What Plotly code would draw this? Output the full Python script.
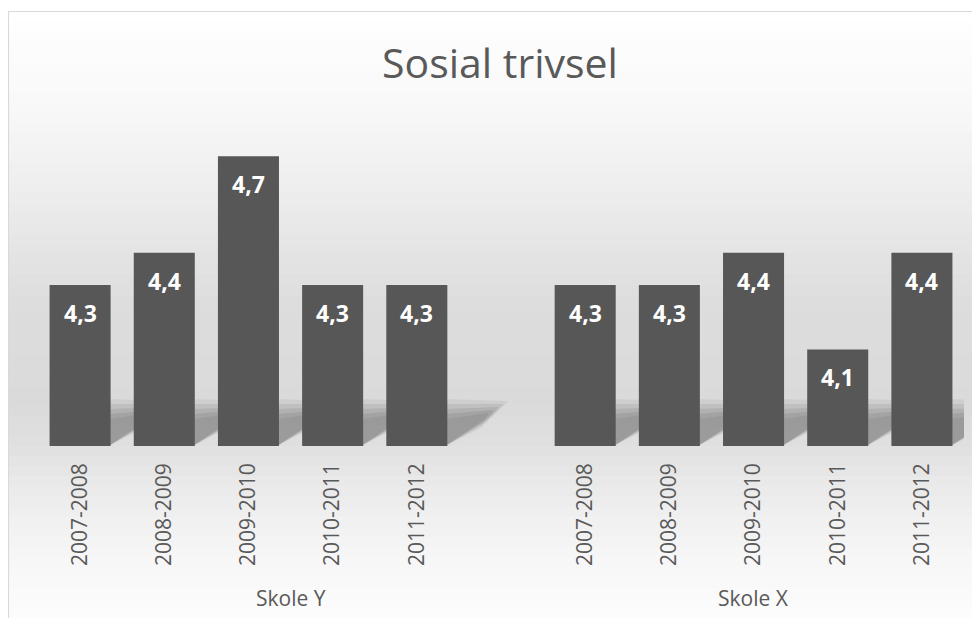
import plotly.graph_objects as go

# ---- data ----
title_text = "Sosial trivsel"
groups = ["Skole Y", "Skole X"]
periods = ["2007-2008", "2008-2009", "2009-2010", "2010-2011", "2011-2012"]
values_skole_y = [4.3, 4.4, 4.7, 4.3, 4.3]
values_skole_x = [4.3, 4.3, 4.4, 4.1, 4.4]
y_min, y_max = 3.8, 4.8

OFF = 8  # page body margin
W, H = 980 - OFF, 618 - OFF
M_L, M_R, M_T, M_B = 38 - OFF, 16, 124 - OFF, 172
TXT = "#595959"
BAR = "#575757"
FONT = "Open Sans"
BARGAP = 0.275

# slot layout: group Y occupies slots 0..5 (last one empty), group X slots 6..10
n = len(periods)
x_y = [i for i in range(n)]
x_x = [i + n + 1 for i in range(n)]
all_x = x_y + x_x
all_vals = values_skole_y + values_skole_x
all_labels = periods + periods
x_lo, x_hi = -0.5, 2 * n + 0.5

def fmt(v):
    return f"{v:.1f}".replace(".", ",")

fig = go.Figure()
fig.add_trace(go.Bar(
    x=all_x, y=all_vals, marker=dict(color=BAR, line=dict(width=0)),
    showlegend=False, hoverinfo="skip",
))

plot_h = H - M_T - M_B
plot_w = W - M_L - M_R
def py(pix):
    return (H - M_B - (pix - OFF)) / plot_h
def px(pix):
    return ((pix - OFF) - M_L) / plot_w

# background gradient bands (decoration)
stops = [(11, 255), (110, 248), (200, 236), (300, 221), (400, 218), (445, 224),
         (500, 237), (560, 247), (618, 253)]
shapes = []
nb = 60
for k in range(nb):
    p0 = 11 + (618 - 11) * k / nb
    p1 = 11 + (618 - 11) * (k + 1) / nb
    pm = (p0 + p1) / 2
    for j in range(len(stops) - 1):
        if stops[j][0] <= pm <= stops[j + 1][0]:
            t = (pm - stops[j][0]) / (stops[j + 1][0] - stops[j][0])
            c = round(stops[j][1] + t * (stops[j + 1][1] - stops[j][1]))
            break
    shapes.append(dict(type="rect", xref="paper", yref="paper",
                       x0=px(8), x1=px(1000),
                       y0=py(p1 + 0.5), y1=py(p0),
                       fillcolor=f"rgb({c},{c},{c})", line=dict(width=0), layer="below"))

# soft floor shadows behind each bar (decoration, derived from bar positions)
ux = (x_hi - x_lo) / plot_w      # data units per pixel (x)
uy = (y_max - y_min) / plot_h    # data units per pixel (y)
half = (1 - BARGAP) / 2
for xv in all_x:
    xr = xv + half
    for (grow, op) in [(5, 0.05), (0, 0.07), (-5, 0.08), (-10, 0.08), (-15, 0.06)]:
        pts = [(xr - 2 * ux, y_min),
               (xr - 2 * ux, y_min + (42 + grow) * uy),
               (xr + (56 + grow) * ux, y_min + (42 + grow * 0.6) * uy),
               (xr + (50 + grow) * ux, y_min + (34 + grow) * uy)]
        path = "M " + " L ".join(f"{a},{b}" for a, b in pts) + " Z"
        shapes.append(dict(type="path", xref="x", yref="y", path=path,
                           fillcolor=f"rgba(0,0,0,{op})", line=dict(width=0), layer="below"))

# chart border (left and top)
shapes.append(dict(type="line", xref="paper", yref="paper",
                   x0=px(8.5), x1=px(8.5), y0=py(640), y1=py(11),
                   line=dict(color="#d9d9d9", width=1.2)))
shapes.append(dict(type="line", xref="paper", yref="paper",
                   x0=px(8), x1=px(1000), y0=py(11.5), y1=py(11.5),
                   line=dict(color="#d9d9d9", width=1.2)))

annotations = []
for xv, v in zip(all_x, all_vals):
    annotations.append(dict(x=xv, y=v, xref="x", yref="y", text=fmt(v),
                            showarrow=False, yshift=-28, yanchor="middle",
                            font=dict(family=FONT, size=23, color="white", weight="bold")))
group_centers = [(x_lo + n + 0.5) / 2, (n + 0.5 + x_hi) / 2]
for g, cx in zip(groups, group_centers):
    annotations.append(dict(x=cx, y=py(598), xref="x", yref="paper", text=g,
                            showarrow=False, yanchor="middle",
                            font=dict(family=FONT, size=21, color=TXT)))
annotations.append(dict(x=px(500), y=py(62), xref="paper", yref="paper",
                        text=title_text, showarrow=False, yanchor="middle",
                        font=dict(family=FONT, size=41, color=TXT)))

fig.update_layout(
    width=W, height=H,
    margin=dict(l=M_L, r=M_R, t=M_T, b=M_B),
    paper_bgcolor="white", plot_bgcolor="rgba(0,0,0,0)",
    bargap=BARGAP,
    shapes=shapes, annotations=annotations,
    xaxis=dict(range=[x_lo, x_hi], tickmode="array", tickvals=all_x,
               ticktext=all_labels, tickangle=-90, showgrid=False, zeroline=False,
               showline=False, ticks="", ticklabelstandoff=12,
               tickfont=dict(family=FONT, size=21, color=TXT)),
    yaxis=dict(range=[y_min, y_max], visible=False, showgrid=False, zeroline=False),
)

fig.write_html("out.html")
